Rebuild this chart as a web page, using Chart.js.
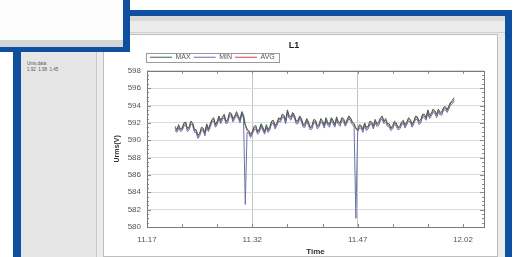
<!DOCTYPE html>
<html><head><meta charset="utf-8">
<script src="https://cdn.jsdelivr.net/npm/chart.js@4/dist/chart.umd.min.js"></script>
<style>
html,body{margin:0;padding:0;width:520px;height:257px;overflow:hidden;background:#fff;font-family:"Liberation Sans",Arial,sans-serif;}
.abs{position:absolute;box-sizing:border-box;}
</style></head><body>
<!-- main window -->
<div class="abs" style="left:13px;top:10px;width:499px;height:247px;background:#0f4f9f"></div>
<div class="abs" style="left:21px;top:16px;width:484px;height:241px;background:#ececec"></div>
<div class="abs" style="left:21px;top:16px;width:484px;height:5px;background:#d9d9d9"></div>
<div class="abs" style="left:21px;top:32px;width:484px;height:1px;background:#cfcfcf"></div>
<div class="abs" style="left:21px;top:52px;width:76px;height:205px;background:#e6e6e6;border-right:1px solid #c9c9c9"></div>
<div class="abs" style="left:27px;top:61px;font-size:4.5px;color:#555;line-height:6px">Ums.data<br>1.92&nbsp; 1.98&nbsp; 1.45</div>
<div class="abs" style="left:103px;top:34px;width:395px;height:223px;background:#fff;border:1px solid #bdbdbd"></div>
<canvas id="c" class="abs" style="left:104px;top:35px;width:393px;height:222px" width="393" height="222"></canvas>
<!-- front panel -->
<div class="abs" style="left:0;top:0;width:130px;height:52px;background:#0f4f9f"></div>
<div class="abs" style="left:0;top:0;width:123px;height:47px;background:#fdfdfd"></div>
<div class="abs" style="left:0;top:40px;width:123px;height:7px;background:#d6d6d6"></div>
<script>
const timeLabels = [
"11:21:00","11:21:15","11:21:30","11:21:45","11:22:00","11:22:15","11:22:30","11:22:45","11:23:00","11:23:15",
"11:23:30","11:23:45","11:24:00","11:24:15","11:24:30","11:24:45","11:25:00","11:25:15","11:25:30","11:25:45",
"11:26:00","11:26:15","11:26:30","11:26:45","11:27:00","11:27:15","11:27:30","11:27:45","11:28:00","11:28:15",
"11:28:30","11:28:45","11:29:00","11:29:15","11:29:30","11:29:45","11:30:00","11:30:15","11:30:30","11:30:45",
"11:31:00","11:31:15","11:31:30","11:31:45","11:32:00","11:32:15","11:32:30","11:32:45","11:33:00","11:33:15",
"11:33:30","11:33:45","11:34:00","11:34:15","11:34:30","11:34:45","11:35:00","11:35:15","11:35:30","11:35:45",
"11:36:00","11:36:15","11:36:30","11:36:45","11:37:00","11:37:15","11:37:30","11:37:45","11:38:00","11:38:15",
"11:38:30","11:38:45","11:39:00","11:39:15","11:39:30","11:39:45","11:40:00","11:40:15","11:40:30","11:40:45",
"11:41:00","11:41:15","11:41:30","11:41:45","11:42:00","11:42:15","11:42:30","11:42:45","11:43:00","11:43:15",
"11:43:30","11:43:45","11:44:00","11:44:15","11:44:30","11:44:45","11:45:00","11:45:15","11:45:30","11:45:45",
"11:46:00","11:46:15","11:46:30","11:46:45","11:47:00","11:47:15","11:47:30","11:47:45","11:48:00","11:48:15",
"11:48:30","11:48:45","11:49:00","11:49:15","11:49:30","11:49:45","11:50:00","11:50:15","11:50:30","11:50:45",
"11:51:00","11:51:15","11:51:30","11:51:45","11:52:00","11:52:15","11:52:30","11:52:45","11:53:00","11:53:15",
"11:53:30","11:53:45","11:54:00","11:54:15","11:54:30","11:54:45","11:55:00","11:55:15","11:55:30","11:55:45",
"11:56:00","11:56:15","11:56:30","11:56:45","11:57:00","11:57:15","11:57:30","11:57:45","11:58:00","11:58:15",
"11:58:30","11:58:45","11:59:00","11:59:15","11:59:30","11:59:45","12:00:00","12:00:15","12:00:30","12:00:45"];
const maxValues = [
591.6,591.2,591.8,591.3,591.4,592.0,592.1,591.4,591.5,592.2,
592.0,591.3,591.2,590.6,590.8,591.5,591.4,590.9,591.9,591.3,
591.9,592.4,592.6,591.8,592.2,592.8,592.3,592.7,593.0,592.2,
592.4,593.2,593.1,592.5,592.8,593.3,592.8,592.4,593.3,592.9,
591.8,591.3,591.1,590.7,591.0,591.6,591.7,591.0,591.3,591.9,
591.5,591.0,591.8,591.2,591.6,592.2,592.3,591.7,592.0,592.6,
592.4,593.0,592.9,592.3,593.5,592.8,592.7,593.2,592.9,592.2,
592.3,592.8,592.5,591.8,591.9,592.5,592.1,591.5,591.7,592.4,
592.3,591.7,591.8,592.5,592.2,591.8,592.6,592.0,591.9,592.6,
592.3,591.8,592.7,592.1,592.0,592.6,592.5,591.9,592.4,592.8,
592.6,592.1,591.9,591.4,591.2,591.8,591.7,591.3,592.0,591.5,
591.6,592.2,592.1,591.7,592.4,591.9,592.1,592.6,592.8,592.2,
592.5,591.9,591.9,591.4,591.7,592.2,592.0,591.5,591.6,592.1,
592.3,591.8,592.1,592.6,592.4,591.9,592.2,592.8,592.7,592.2,
592.4,593.0,593.0,592.6,593.5,592.9,593.1,593.6,593.4,593.0,
593.6,593.2,593.3,593.8,593.9,593.5,594.0,594.4,594.6,594.9];
const minValues = [
591.2,590.9,591.4,591.0,591.1,591.6,591.8,591.0,591.2,591.9,
591.7,590.9,590.9,590.2,590.5,591.1,591.1,590.5,591.5,591.0,
591.5,592.1,592.2,591.5,591.8,592.5,591.9,592.4,592.6,591.9,
592.0,592.8,592.8,592.1,592.5,592.9,592.5,592.0,593.0,592.5,
582.6,590.9,590.8,590.3,590.7,591.2,591.3,590.7,590.9,591.6,
591.1,590.7,591.4,590.9,591.2,591.9,591.9,591.3,591.7,592.2,
592.1,592.6,592.6,591.9,593.1,592.5,592.3,592.9,592.5,591.9,
591.9,592.5,592.1,591.5,591.5,592.2,591.7,591.2,591.3,592.0,
592.0,591.3,591.5,592.1,591.9,591.4,592.2,591.7,591.5,592.3,
591.9,591.5,592.3,591.8,591.6,592.3,592.1,591.6,592.0,592.5,
592.2,591.8,591.5,581.0,590.9,591.4,591.4,590.9,591.7,591.1,
591.3,591.8,591.8,591.3,592.0,591.6,591.7,592.3,592.4,591.9,
592.1,591.6,591.5,591.1,591.3,591.9,591.6,591.2,591.3,591.7,
592.0,591.4,591.8,592.2,592.1,591.5,591.9,592.4,592.4,591.8,
592.0,592.7,592.6,592.3,593.1,592.5,592.8,593.2,593.1,592.6,
593.2,592.9,592.9,593.5,593.5,593.2,593.6,594.1,594.2,594.5];
const avgValues = [
591.4,591.1,591.6,591.2,591.3,591.8,592.0,591.2,591.4,592.1,
591.9,591.1,591.1,590.4,590.7,591.3,591.3,590.7,591.7,591.2,
591.7,592.3,592.4,591.7,592.0,592.7,592.1,592.6,592.8,592.1,
592.2,593.0,593.0,592.3,592.7,593.1,592.7,592.2,593.2,592.7,
591.7,591.1,591.0,590.5,590.9,591.4,591.5,590.9,591.1,591.8,
591.3,590.9,591.6,591.1,591.4,592.1,592.1,591.5,591.9,592.4,
592.3,592.8,592.8,592.1,593.3,592.7,592.5,593.1,592.7,592.1,
592.1,592.7,592.3,591.7,591.7,592.4,591.9,591.4,591.5,592.2,
592.2,591.5,591.7,592.3,592.1,591.6,592.4,591.9,591.7,592.5,
592.1,591.7,592.5,592.0,591.8,592.5,592.3,591.8,592.2,592.7,
592.4,592.0,591.8,591.3,591.1,591.6,591.6,591.1,591.9,591.3,
591.5,592.0,592.0,591.5,592.2,591.8,591.9,592.5,592.6,592.1,
592.3,591.8,591.7,591.3,591.5,592.1,591.8,591.4,591.5,591.9,
592.2,591.6,592.0,592.4,592.3,591.7,592.1,592.6,592.6,592.0,
592.2,592.9,592.8,592.5,593.3,592.7,593.0,593.4,593.3,592.8,
593.4,593.1,593.1,593.7,593.7,593.4,593.8,594.3,594.4,594.7];
const seriesNames = ["MAX","MIN","AVG"];
const axisStart = "11:17";
const axisEnd = "12:05";
const yMin = 580, yMax = 598, yStep = 2;
const xMajorStep = 15, xMinorStep = 5;

function toMin(s){const p=s.split(':').map(Number);return p[0]*60+p[1]+(p[2]||0)/60;}
const t0 = toMin(axisStart);
const xEnd = toMin(axisEnd)-t0;
function pts(vals){return vals.map((v,i)=>({x:toMin(timeLabels[i])-t0,y:v}));}
function fmt(m){const tot=Math.round(t0+m);const h=Math.floor(tot/60),mm=tot%60;return h+'.'+String(mm).padStart(2,'0');}

const colors = ['#3b6453','#6970ad','#cc4a4a'];
const framePlugin = {
  id:'frame',
  beforeDatasetsDraw(chart){
    const {ctx,chartArea:a,scales:{x,y}}=chart;
    ctx.save();
    ctx.strokeStyle='#8a8a8a';ctx.lineWidth=1;
    ctx.beginPath();
    for(let v=x.min;v<=x.max+1e-9;v+=xMinorStep){const px=Math.round(x.getPixelForValue(v))+0.5;
      ctx.moveTo(px,a.bottom);ctx.lineTo(px,a.bottom-3);ctx.moveTo(px,a.top);ctx.lineTo(px,a.top+3);}
    for(let v=y.min;v<=y.max+1e-9;v+=0.5){const py=Math.round(y.getPixelForValue(v))+0.5;
      const L=(Math.abs(v%yStep)<1e-9)?4:2;
      ctx.moveTo(a.left,py);ctx.lineTo(a.left+L,py);ctx.moveTo(a.right,py);ctx.lineTo(a.right-L,py);}
    ctx.stroke();
    ctx.strokeStyle='#7a7a7a';
    ctx.strokeRect(Math.round(a.left)+0.5,Math.round(a.top)+0.5,Math.round(a.right-a.left),Math.round(a.bottom-a.top));
    ctx.restore();
  },
  afterDraw(chart){
    const hb=chart.legend&&chart.legend.legendHitBoxes;if(!hb||!hb.length)return;
    const l=Math.min(...hb.map(b=>b.left))-4,r=Math.max(...hb.map(b=>b.left+b.width))+4;
    const t=Math.min(...hb.map(b=>b.top))-1,bt=Math.max(...hb.map(b=>b.top+b.height))+1;
    const ctx=chart.ctx;ctx.save();ctx.strokeStyle='#9a9a9a';ctx.lineWidth=1;
    ctx.strokeRect(Math.round(l)+0.5,Math.round(t)+0.5,Math.round(r-l),Math.round(bt-t));ctx.restore();
  }
};

new Chart(document.getElementById('c'),{
  type:'line',
  data:{datasets:[
    {label:seriesNames[0],data:pts(maxValues),borderColor:colors[0],backgroundColor:colors[0],borderWidth:1,pointRadius:0,tension:0},
    {label:seriesNames[1],data:pts(minValues),borderColor:colors[1],backgroundColor:colors[1],borderWidth:1,pointRadius:0,tension:0},
    {label:seriesNames[2],data:pts(avgValues),borderColor:colors[2],backgroundColor:colors[2],borderWidth:1,pointRadius:0,tension:0}
  ]},
  options:{
    responsive:false,animation:false,devicePixelRatio:1,
    layout:{padding:{left:0,right:13,top:0,bottom:0}},
    plugins:{
      title:{display:true,text:'L1',color:'#222',font:{family:'Liberation Sans',size:9,weight:'bold'},padding:{top:5,bottom:0}},
      legend:{display:true,position:'top',align:'start',fullSize:false,
        labels:{boxWidth:22,boxHeight:1,padding:3,color:'#555',font:{family:'Liberation Sans',size:7},
          generateLabels(chart){return Chart.defaults.plugins.legend.labels.generateLabels(chart).map(l=>Object.assign(l,{lineWidth:0}));}}},
      tooltip:{enabled:false}
    },
    scales:{
      x:{type:'linear',min:0,max:xEnd,
        afterFit(s){s.height=30;},
        border:{display:false},
        grid:{drawTicks:false,color:c=>(c.tick&&c.tick.value>0&&c.tick.value<xEnd-xMajorStep)?'#c4c4c4':'rgba(0,0,0,0)'},
        ticks:{stepSize:xMajorStep,includeBounds:false,padding:8,color:'#555',font:{family:'Liberation Sans',size:8},maxRotation:0,callback:v=>fmt(v)},
        title:{display:true,text:'Time',color:'#333',font:{family:'Liberation Sans',size:8,weight:'bold'},padding:{top:0,bottom:0}}
      },
      y:{min:yMin,max:yMax,
        afterFit(s){s.width=43;},
        border:{display:false},
        grid:{drawTicks:false,color:'#dcdcdc'},
        ticks:{stepSize:yStep,padding:6,color:'#555',font:{family:'Liberation Sans',size:8}},
        title:{display:true,text:'Urms(V)',color:'#333',font:{family:'Liberation Sans',size:7,weight:'bold'},padding:{top:9,bottom:0}}
      }
    }
  },
  plugins:[framePlugin]
});
</script>
</body></html>
